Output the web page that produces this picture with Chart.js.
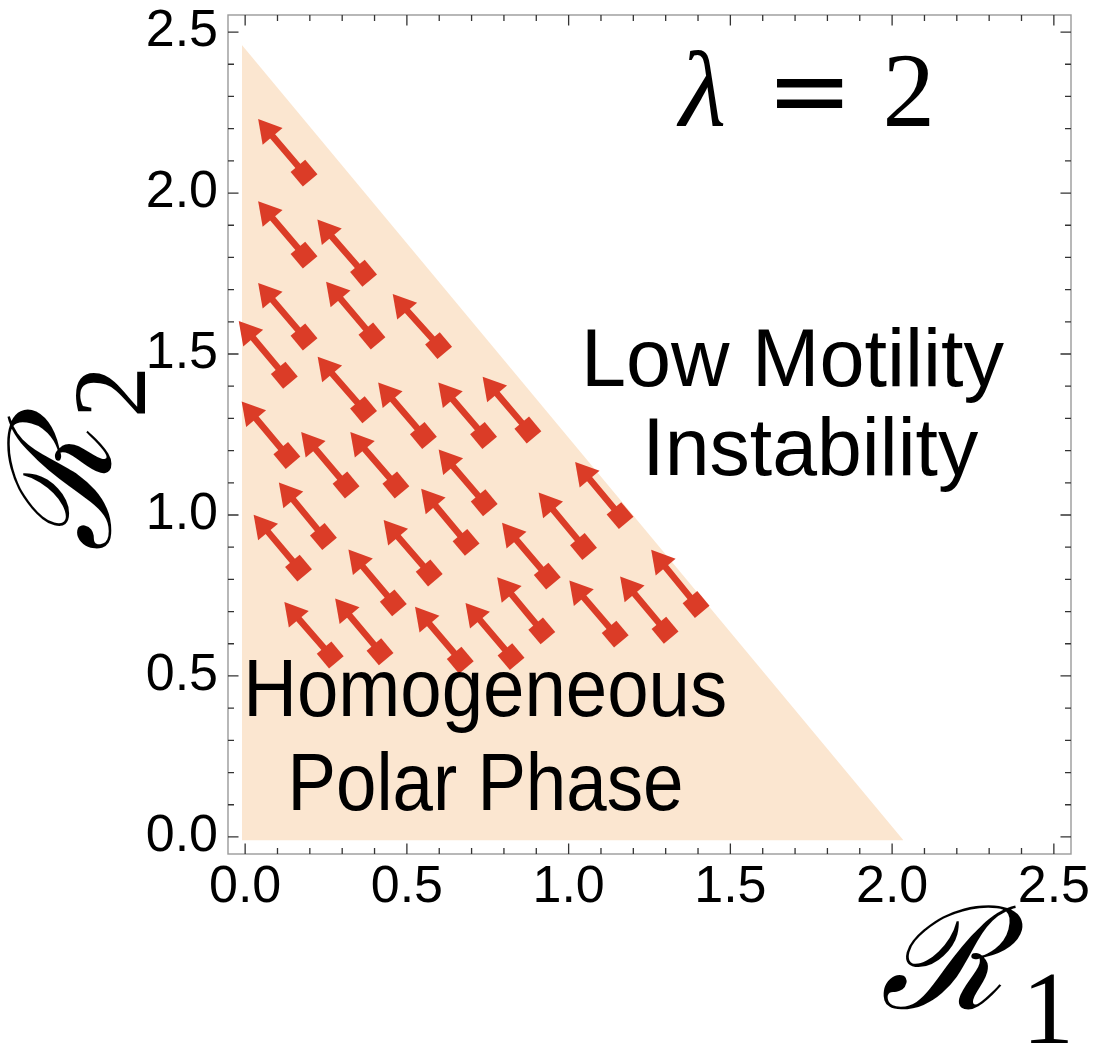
<!DOCTYPE html>
<html>
<head>
<meta charset="utf-8">
<script src="https://cdn.jsdelivr.net/npm/chart.js@4.4.1/dist/chart.umd.min.js"></script>
<style>
html, body { margin: 0; padding: 0; background: #fff; }
#wrap { width: 1094px; height: 1046px; position: relative; }
</style>
</head>
<body>
<div id="wrap"><canvas id="phase-chartcanvas"></canvas></div>
<script>
// arrow tails (diamonds), in (R1, R2) units
var tailX = [0.182, 0.182, 0.366, 0.182, 0.392, 0.598, 0.121, 0.366, 0.551, 0.737, 0.874,
             0.129, 0.312, 0.466, 0.739, 0.242, 0.683, 1.046, 1.159, 0.165, 0.569, 0.934,
             0.458, 1.394, 0.917, 1.144, 1.298, 0.263, 0.417, 0.665, 0.822];
var tailY = [2.062, 1.807, 1.751, 1.553, 1.556, 1.526, 1.434, 1.327, 1.247, 1.247, 1.264,
             1.185, 1.093, 1.093, 1.038, 0.933, 0.915, 0.902, 0.998, 0.835, 0.820, 0.810,
             0.727, 0.722, 0.640, 0.630, 0.642, 0.565, 0.575, 0.549, 0.560];
// arrow heads (centre of the triangle)
var headX = [0.070, 0.070, 0.253, 0.070, 0.280, 0.486, 0.010, 0.254, 0.441, 0.627, 0.764,
             0.019, 0.203, 0.355, 0.628, 0.134, 0.574, 0.937, 1.050, 0.056, 0.458, 0.824,
             0.349, 1.285, 0.809, 1.032, 1.189, 0.151, 0.308, 0.555, 0.711];
var headY = [2.194, 1.939, 1.882, 1.685, 1.689, 1.651, 1.567, 1.456, 1.376, 1.376, 1.394,
             1.317, 1.222, 1.222, 1.168, 1.065, 1.046, 1.034, 1.129, 0.965, 0.949, 0.940,
             0.857, 0.856, 0.771, 0.761, 0.773, 0.694, 0.705, 0.679, 0.691];

// edge of the homogeneous polar phase
var edgeX = [-0.01, 2.035];
var edgeY = [2.46, -0.01];
var floorY = -0.01;

var majorTicks = [0, 0.5, 1, 1.5, 2, 2.5];
var tickLabels = ["0.0", "0.5", "1.0", "1.5", "2.0", "2.5"];
var axisMin = -0.053, axisMax = 2.553;

var red = "#db3c27";
var peach = "#fbe6d0";

var heads = [], tails = [], shafts = [], edge = [];
for (var i = 0; i < tailX.length; i++) {
	tails.push({x: tailX[i], y: tailY[i]});
	heads.push({x: headX[i], y: headY[i]});
	shafts.push({x: tailX[i], y: tailY[i]}, {x: headX[i], y: headY[i]}, {x: tailX[i], y: null});
}
for (var j = 0; j < edgeX.length; j++) edge.push({x: edgeX[j], y: edgeY[j]});

function scriptLabel(ctx, x, y, angle, sub, subDx) {
	ctx.save();
	ctx.translate(x, y);
	ctx.rotate(angle);
	ctx.fillStyle = "#000";
	ctx.textAlign = "left";
	ctx.textBaseline = "alphabetic";
	ctx.font = "italic 142px 'DejaVu Serif'";
	ctx.fillText("\u211B", 0, 0, 128);
	ctx.font = "104px 'Liberation Serif'";
	ctx.fillText(sub, subDx, 35);
	ctx.restore();
}

var decor = {
	id: "decor",
	afterDatasetsDraw: function(chart) {
		var ctx = chart.ctx, a = chart.chartArea;
		var xs = chart.scales.x, ys = chart.scales.y;
		ctx.save();

		// frame
		ctx.strokeStyle = "#9a9a9a";
		ctx.lineWidth = 1.4;
		ctx.strokeRect(a.left, a.top, a.right - a.left, a.bottom - a.top);

		// ticks on all four sides, pointing inwards
		ctx.strokeStyle = "#333";
		ctx.lineWidth = 1.3;
		ctx.beginPath();
		for (var i = 0; i <= 25; i++) {
			var v = i / 10, len = (i % 5 === 0) ? 10.5 : 6;
			var px = xs.getPixelForValue(v), py = ys.getPixelForValue(v);
			ctx.moveTo(px, a.bottom); ctx.lineTo(px, a.bottom - len);
			ctx.moveTo(px, a.top); ctx.lineTo(px, a.top + len);
			ctx.moveTo(a.left, py); ctx.lineTo(a.left + len, py);
			ctx.moveTo(a.right, py); ctx.lineTo(a.right - len, py);
		}
		ctx.stroke();

		// region names
		ctx.fillStyle = "#000";
		ctx.textAlign = "center";
		ctx.textBaseline = "alphabetic";
		ctx.font = "81px 'Liberation Sans'";
		ctx.fillText("Low Motility", xs.getPixelForValue(1.692), ys.getPixelForValue(1.402), 428);
		ctx.fillText("Instability", xs.getPixelForValue(1.747), ys.getPixelForValue(1.125), 336);
		ctx.font = "82px 'Liberation Sans'";
		ctx.fillText("Homogeneous", xs.getPixelForValue(0.742), ys.getPixelForValue(0.375), 484);
		ctx.fillText("Polar Phase", xs.getPixelForValue(0.743), ys.getPixelForValue(0.084), 396);

		// lambda = 2
		var base = ys.getPixelForValue(2.208);
		ctx.textAlign = "left";
		ctx.font = "italic 108px 'Liberation Serif'";
		ctx.fillText("\u03BB", xs.getPixelForValue(1.342), base);
		ctx.font = "104px 'DejaVu Sans'";
		ctx.fillText("=", xs.getPixelForValue(1.610), base);
		ctx.font = "105px 'Liberation Serif'";
		ctx.fillText("2", xs.getPixelForValue(1.970), base);

		// axis titles
		scriptLabel(ctx, 880, 1008, 0, "1", 142);
		scriptLabel(ctx, 110, 552, -Math.PI / 2, "2", 134);

		ctx.restore();
	}
};

var data = {
	datasets: [
		{
			label: "heads",
			data: heads,
			pointStyle: "triangle",
			pointRadius: 15,
			rotation: -40,
			backgroundColor: red,
			borderWidth: 0,
			showLine: false
		},
		{
			label: "tails",
			data: tails,
			pointStyle: "rect",
			pointRadius: 13.5,
			rotation: -40,
			backgroundColor: red,
			borderWidth: 0,
			showLine: false
		},
		{
			label: "shafts",
			data: shafts,
			showLine: true,
			spanGaps: false,
			borderColor: red,
			borderWidth: 6.5,
			pointRadius: 0,
			fill: false
		},
		{
			label: "polar phase",
			data: edge,
			showLine: true,
			borderWidth: 0,
			borderColor: peach,
			backgroundColor: peach,
			pointRadius: 0,
			fill: {value: floorY}
		}
	]
};

var options = {
	responsive: true,
	maintainAspectRatio: false,
	animation: false,
	events: [],
	layout: { padding: { left: 0, top: 11, right: 23, bottom: 0 } },
	plugins: {
		legend: { display: false },
		tooltip: { enabled: false },
		title: { display: false }
	},
	scales: {
		x: {
			type: "linear",
			min: axisMin,
			max: axisMax,
			grid: { display: false, drawTicks: false },
			border: { display: false },
			afterBuildTicks: function(s) { s.ticks = majorTicks.map(function(v) { return {value: v}; }); },
			ticks: {
				autoSkip: false,
				maxRotation: 0,
				padding: 2,
				color: "#000",
				font: { family: "'Liberation Sans'", size: 52 },
				callback: function(v, idx) { return tickLabels[idx]; }
			},
			afterFit: function(s) { s.height = 192; s.paddingLeft = 0; s.paddingRight = 0; }
		},
		y: {
			type: "linear",
			min: axisMin,
			max: axisMax,
			grid: { display: false, drawTicks: false },
			border: { display: false },
			afterBuildTicks: function(s) { s.ticks = majorTicks.map(function(v) { return {value: v}; }); },
			ticks: {
				autoSkip: false,
				padding: 10,
				color: "#000",
				font: { family: "'Liberation Sans'", size: 52 },
				callback: function(v, idx) { return tickLabels[idx]; }
			},
			afterFit: function(s) { s.width = 228; s.paddingTop = 0; s.paddingBottom = 0; }
		}
	}
};

var chart = new Chart(document.getElementById("phase-chartcanvas"), {
	type: "scatter",
	data: data,
	options: options,
	plugins: [decor]
});
</script>
</body>
</html>
